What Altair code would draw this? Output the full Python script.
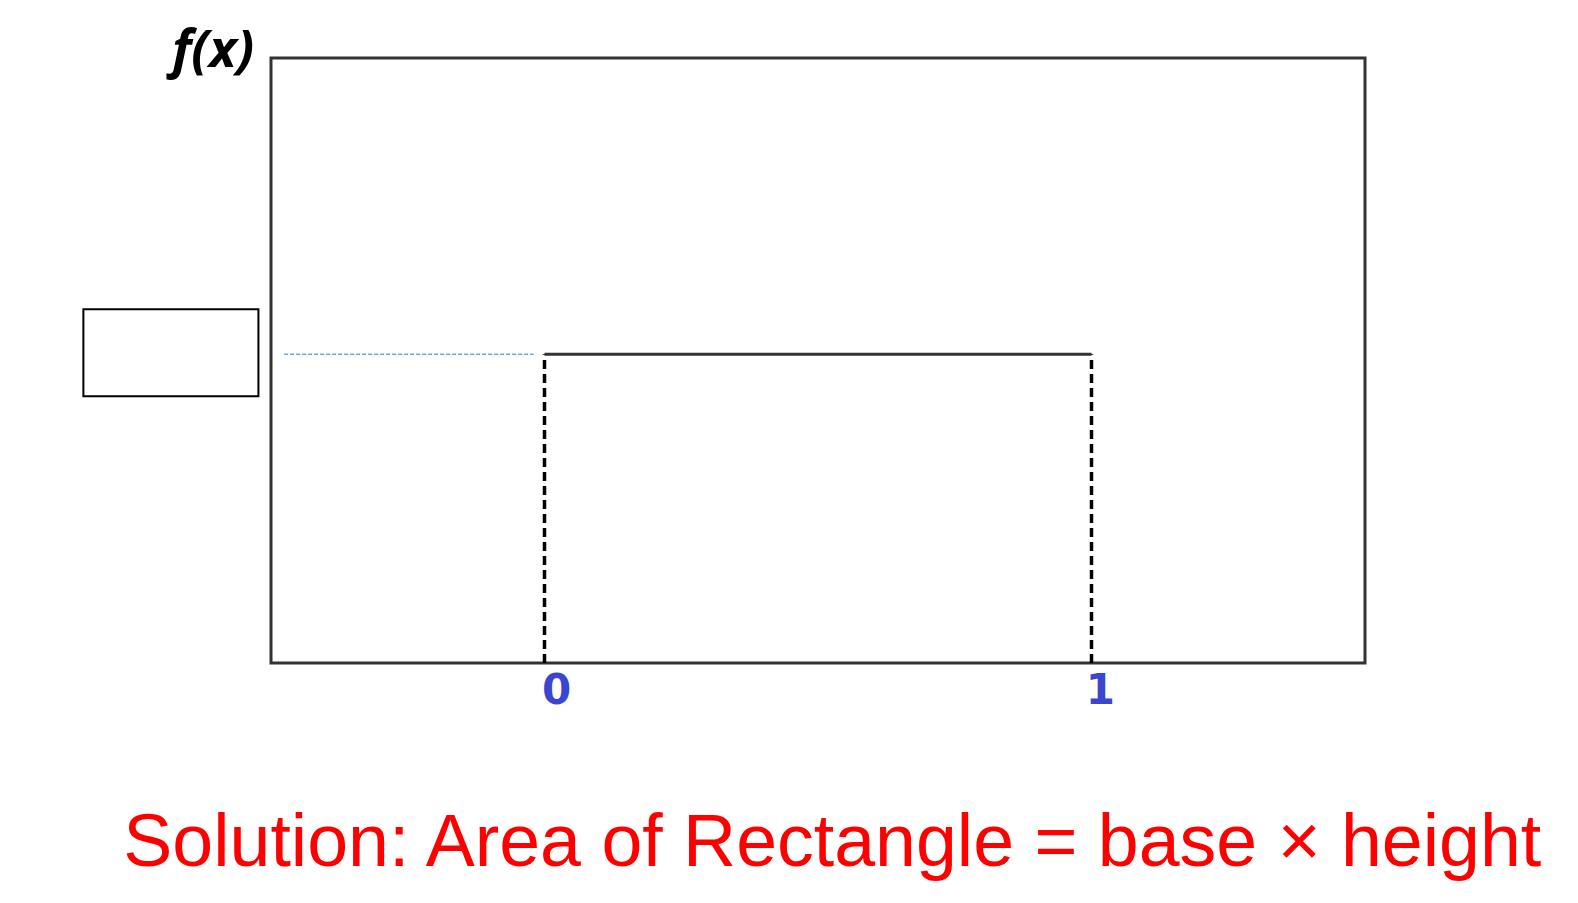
import altair as alt
import pandas as pd

# Uniform density on [0, 1]
x_bounds = [0, 1]
density = [1, 1]
tick_labels = ["0", "1"]

# annotation items
answer_box_x = [-0.843, -0.523]
answer_box_y = [0.864, 1.146]
guide_x = [-0.476, -0.02]
y_label = "f(x)"
solution = "Solution: Area of Rectangle = base \u00d7 height"

xs = alt.Scale(domain=[-0.5, 1.5], nice=False, zero=False)
ys = alt.Scale(domain=[0, 1.96], nice=False, zero=False)

top_df = pd.DataFrame({"x": [x_bounds[0]], "x2": [x_bounds[1]], "y": [density[0]]})
vert_df = pd.DataFrame({"x": x_bounds, "y": [0, 0], "y2": density})
guide_df = pd.DataFrame({"x": [guide_x[0]], "x2": [guide_x[1]], "y": [density[0]]})
box_df = pd.DataFrame({"x": [answer_box_x[0]], "x2": [answer_box_x[1]],
                       "y": [answer_box_y[0]], "y2": [answer_box_y[1]]})
tick_df = pd.DataFrame({"x": [x_bounds[0] + 0.022, x_bounds[1] + 0.016],
                        "y": [-0.09, -0.09], "t": tick_labels})
ylab_df = pd.DataFrame({"x": [-0.606], "y": [1.93], "t": [y_label]})
sol_df = pd.DataFrame({"x": [-0.77], "y": [-0.658], "t": [solution]})

top = alt.Chart(top_df).mark_rule(color="#333333", strokeWidth=3).encode(
    x=alt.X("x:Q", scale=xs, axis=None), x2="x2:Q",
    y=alt.Y("y:Q", scale=ys, axis=None))

vert = alt.Chart(vert_df).mark_rule(color="black", strokeWidth=3.5, strokeDash=[9, 5]).encode(
    x=alt.X("x:Q", scale=xs, axis=None),
    y=alt.Y("y:Q", scale=ys, axis=None), y2="y2:Q")

guide = alt.Chart(guide_df).mark_rule(color="#6FA3D8", strokeWidth=1.5, strokeDash=[4, 2]).encode(
    x=alt.X("x:Q", scale=xs, axis=None), x2="x2:Q",
    y=alt.Y("y:Q", scale=ys, axis=None))

box = alt.Chart(box_df).mark_rect(fill="white", stroke="black", strokeWidth=2).encode(
    x=alt.X("x:Q", scale=xs, axis=None), x2="x2:Q",
    y=alt.Y("y:Q", scale=ys, axis=None), y2="y2:Q")

ticks = alt.Chart(tick_df).mark_text(
    font="DejaVu Sans", fontSize=42, fontWeight="bold",
    color="#3A46D0", align="center", baseline="middle").encode(
    x=alt.X("x:Q", scale=xs, axis=None),
    y=alt.Y("y:Q", scale=ys, axis=None), text="t:N")

ylab = alt.Chart(ylab_df).mark_text(
    font="Open Sans", fontSize=52, fontWeight="bold", fontStyle="italic",
    color="black", align="center", baseline="alphabetic").encode(
    x=alt.X("x:Q", scale=xs, axis=None),
    y=alt.Y("y:Q", scale=ys, axis=None), text="t:N")

sol = alt.Chart(sol_df).mark_text(
    font="Liberation Sans", fontSize=73.5, color="#FF0000",
    align="left", baseline="alphabetic").encode(
    x=alt.X("x:Q", scale=xs, axis=None),
    y=alt.Y("y:Q", scale=ys, axis=None), text="t:N")

chart = alt.layer(guide, box, vert, top, ticks, ylab, sol).properties(
    width=1094, height=605,
    autosize=alt.AutoSizeParams(type="none"),
    padding={"left": 263, "top": 50, "right": 205, "bottom": 232},
    background="white",
).configure_view(stroke="#333333", strokeWidth=3)

chart.save("out.html", embed_options={"renderer": "svg", "actions": False})
